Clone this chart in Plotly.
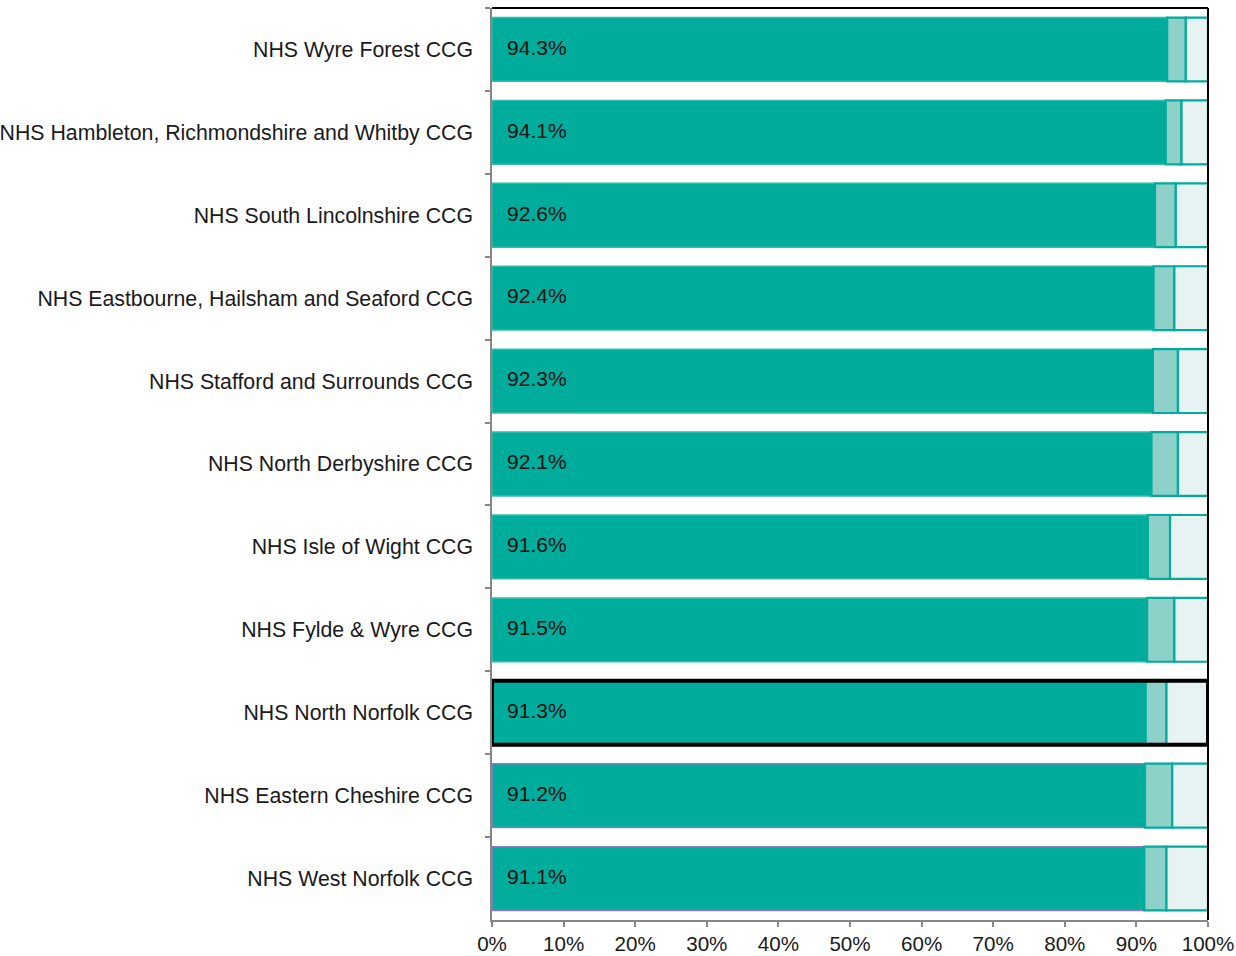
import plotly.graph_objects as go

categories = [
    "NHS Wyre Forest CCG",
    "NHS Hambleton, Richmondshire and Whitby CCG",
    "NHS South Lincolnshire CCG",
    "NHS Eastbourne, Hailsham and Seaford CCG",
    "NHS Stafford and Surrounds CCG",
    "NHS North Derbyshire CCG",
    "NHS Isle of Wight CCG",
    "NHS Fylde & Wyre CCG",
    "NHS North Norfolk CCG",
    "NHS Eastern Cheshire CCG",
    "NHS West Norfolk CCG",
]
main_pct = [94.3, 94.1, 92.6, 92.4, 92.3, 92.1, 91.6, 91.5, 91.3, 91.2, 91.1]
second_pct = [2.6, 2.2, 2.9, 2.9, 3.5, 3.7, 3.1, 3.8, 2.9, 3.8, 3.1]
third_pct = [3.1, 3.7, 4.5, 4.7, 4.2, 4.2, 5.3, 4.7, 5.8, 5.0, 5.8]
highlight = "NHS North Norfolk CCG"
purple_outlined = ["NHS Eastern Cheshire CCG", "NHS West Norfolk CCG"]
x_ticks = [0, 10, 20, 30, 40, 50, 60, 70, 80, 90, 100]

TEAL = "#00ac9b"
MID = "#8dd1c8"
LIGHT = "#e6f3f2"
FONT = "Liberation Sans, Arial, sans-serif"
FS = 21.0

base2 = [m for m in main_pct]
base3 = [m + s for m, s in zip(main_pct, second_pct)]
main_line = ["#8e7cc3" if c in purple_outlined else "#33bcae" for c in categories]

fig = go.Figure()
fig.add_trace(go.Bar(
    y=categories, x=main_pct, base=[0] * len(categories), orientation="h",
    marker=dict(color=TEAL, line=dict(color=main_line, width=1.5)),
    hoverinfo="skip", showlegend=False,
))
fig.add_trace(go.Bar(
    y=categories, x=second_pct, base=base2, orientation="h",
    marker=dict(color=MID, line=dict(color=TEAL, width=2.2)),
    hoverinfo="skip", showlegend=False,
))
fig.add_trace(go.Bar(
    y=categories, x=third_pct, base=base3, orientation="h",
    marker=dict(color=LIGHT, line=dict(color=TEAL, width=2.2)),
    hoverinfo="skip", showlegend=False,
))
# highlight outline for the selected CCG
hl_total = [m + s + t for m, s, t in zip(main_pct, second_pct, third_pct)]
hl_idx = categories.index(highlight)
fig.add_trace(go.Bar(
    y=[highlight], x=[hl_total[hl_idx]], base=[0], orientation="h",
    marker=dict(color="rgba(0,0,0,0)", line=dict(color="#000000", width=4)),
    hoverinfo="skip", showlegend=False,
))
# value labels
fig.add_trace(go.Scatter(
    y=categories, x=[2.1] * len(categories), mode="text",
    text=[f"{v:.1f}%" for v in main_pct], textposition="middle right",
    textfont=dict(family=FONT, size=FS, color="#111111"),
    hoverinfo="skip", showlegend=False,
))

fig.update_layout(
    barmode="overlay",
    bargap=0.23,
    width=1236, height=956,
    margin=dict(l=492, r=28, t=8, b=36, autoexpand=False),
    plot_bgcolor="white", paper_bgcolor="white",
    font=dict(family=FONT, size=FS, color="#1a1a1a"),
    xaxis=dict(
        range=[0, 100], tickvals=x_ticks,
        ticktext=[f"{t}%" for t in x_ticks],
        showgrid=False, zeroline=False, automargin=False,
        showline=True, linecolor="#868686", linewidth=1.5,
        ticks="outside", ticklen=5, tickcolor="#868686", tickwidth=1.5,
        tickfont=dict(family=FONT, size=20.6, color="#1a1a1a"),
    ),
    yaxis=dict(
        categoryorder="array", categoryarray=categories,
        range=[len(categories) - 0.5, -0.5], automargin=False,
        showgrid=False, zeroline=False,
        showline=True, linecolor="#868686", linewidth=1.5,
        ticks="outside", ticklen=5, tickcolor="#868686", tickwidth=1.5,
        tickson="boundaries",
        ticklabelstandoff=13,
        tickfont=dict(family=FONT, size=21.3, color="#1a1a1a"),
    ),
    shapes=[
        dict(type="line", xref="paper", yref="paper", x0=0, x1=1, y0=1, y1=1,
             line=dict(color="#000000", width=2)),
        dict(type="line", xref="paper", yref="paper", x0=1, x1=1, y0=0, y1=1,
             line=dict(color="#000000", width=2)),
    ],
)

fig.write_html(
    "out.html",
    config={"displayModeBar": False},
    post_script="document.body.style.margin='0';document.body.style.overflow='hidden';",
)
